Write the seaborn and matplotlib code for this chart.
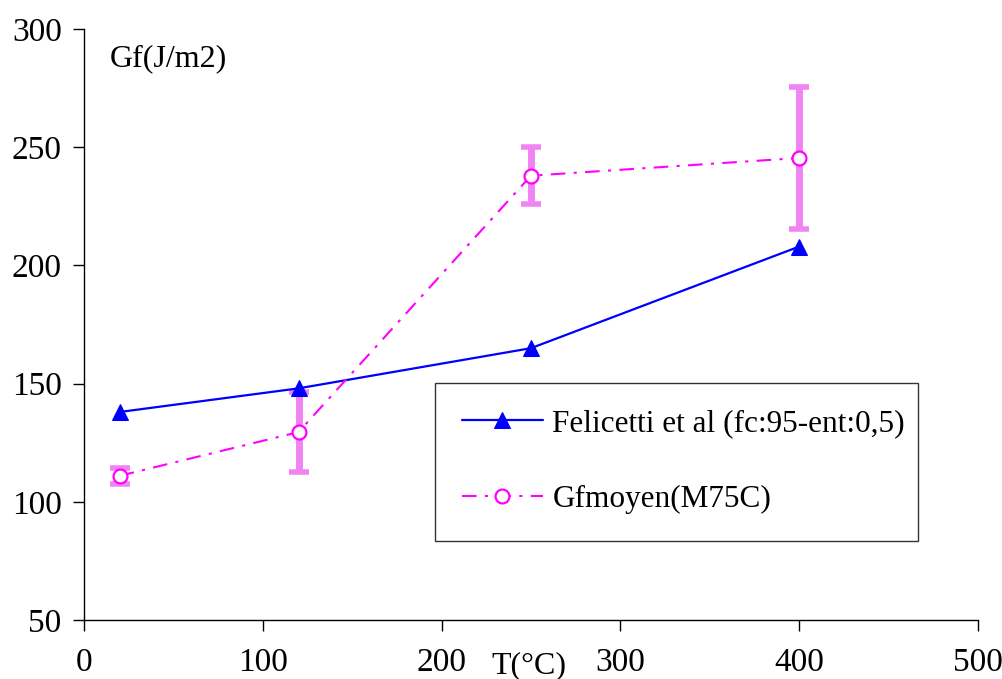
import matplotlib
matplotlib.use("Agg")
import matplotlib.pyplot as plt
import seaborn as sns
import pandas as pd

# data
temps = [20, 120, 250, 400]
felicetti = [138, 148, 165, 208]
gfmoyen = [111, 129.5, 238, 245.5]
gf_err = [3.5, 17, 12, 30]

label_fel = "Felicetti et al (fc:95-ent:0,5)"
label_gf = "Gfmoyen(M75C)"

df = pd.DataFrame({"T": temps, "fel": felicetti, "gf": gfmoyen})

sns.set_style("ticks")
plt.rcParams["font.family"] = ["Liberation Serif", "DejaVu Serif"]
plt.rcParams["text.color"] = "black"

fig = plt.figure(figsize=(10.03, 6.79), dpi=100)
ax = fig.add_axes([0.0837, 0.087, 0.8913, 0.870])

# error bars first so markers sit on top
ax.errorbar(temps, gfmoyen, yerr=gf_err, fmt="none", ecolor="#f283f2",
            elinewidth=5, capsize=7, capthick=4, zorder=1)

sns.lineplot(data=df, x="T", y="fel", ax=ax, color="#0000ff", lw=1.6,
             marker="^", markersize=11, markeredgecolor="#0000ff",
             label=label_fel, zorder=3)
sns.lineplot(data=df, x="T", y="gf", ax=ax, color="#ff00ff", lw=1.5,
             marker="o", markersize=10, markerfacecolor="white",
             markeredgecolor="#ff00ff", markeredgewidth=1.6,
             dashes=False, label=label_gf, zorder=3)
ax.lines[-1].set_dashes([7, 4, 1.5, 4])

ax.set_xlim(0, 500)
ax.set_ylim(50, 300)
ax.set_xticks(range(0, 501, 100))
ax.set_yticks(range(50, 301, 50))
ax.tick_params(axis="both", labelsize=24, length=8, width=1, direction="out",
               colors="black")
ax.tick_params(axis="x", pad=12)
ax.tick_params(axis="y", pad=8)
ax.set_xlabel("")
ax.set_ylabel("")
sns.despine(ax=ax)
for s in ["left", "bottom"]:
    ax.spines[s].set_linewidth(1)
    ax.spines[s].set_color("black")

ax.text(0.029, 0.975, "Gf(J/m2)", transform=ax.transAxes, fontsize=23,
        va="top", ha="left")
ax.text(249, -0.0905, "T(°C)", transform=ax.get_xaxis_transform(),
        fontsize=23, ha="center", va="baseline")

leg = ax.legend(loc="lower left", bbox_to_anchor=(0.393, 0.134, 0.54, 0.267),
                mode="expand", fontsize=22.5, frameon=True, fancybox=False,
                edgecolor="black", handlelength=2.6, handletextpad=0.3,
                labelspacing=1.5, borderaxespad=0, borderpad=0.85)
leg.get_frame().set_linewidth(1)
for t in leg.get_texts():
    t.set_color("black")

fig.savefig("out.png", dpi=100)
